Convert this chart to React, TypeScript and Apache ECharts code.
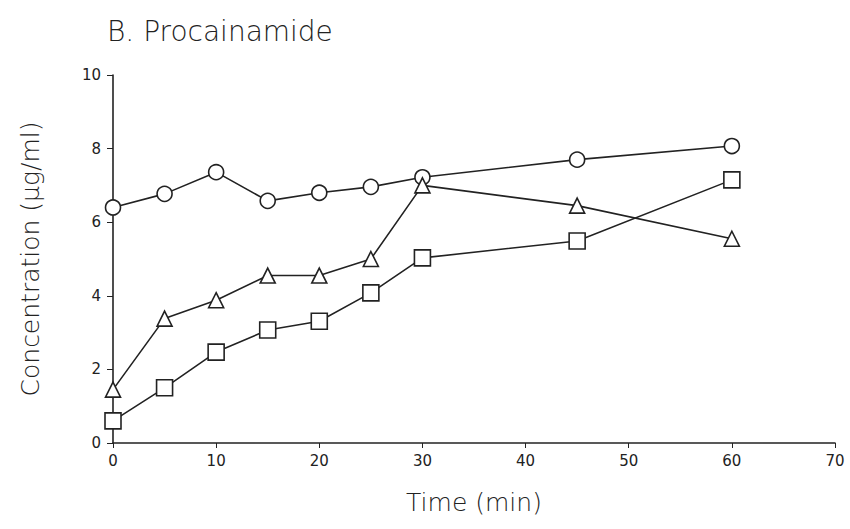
import React, { useEffect, useRef } from "react";
import * as echarts from "echarts";

const times = [0, 5, 10, 15, 20, 25, 30, 45, 60];
const circleVals = [6.4, 6.77, 7.36, 6.58, 6.8, 6.96, 7.22, 7.7, 8.07];
const triangleVals = [1.45, 3.38, 3.88, 4.55, 4.55, 5.0, 7.0, 6.45, 5.55];
const squareVals = [0.6, 1.5, 2.47, 3.07, 3.31, 4.08, 5.03, 5.49, 7.15];
const xTicks = [0, 10, 20, 30, 40, 50, 60, 70];
const yTicks = [0, 2, 4, 6, 8, 10];

const FONT = "'DejaVu Sans', sans-serif";

function mk(vals: number[], symbol: string, size: number, name: string) {
  return {
    name,
    type: "line",
    data: times.map((t, i) => [t, vals[i]]),
    symbol,
    symbolSize: size,
    showAllSymbol: true,
    lineStyle: { color: "#222", width: 1.6 },
    itemStyle: { color: "#fff", borderColor: "#222", borderWidth: 1.6 },
    z: 3,
  };
}

export default function App() {
  const ref = useRef<HTMLDivElement>(null);
  useEffect(() => {
    const chart = echarts.init(ref.current!, undefined, { renderer: "svg" });
    chart.setOption({
      animation: false,
      backgroundColor: "#fff",
      title: {
        text: "B. Procainamide",
        left: 102,
        top: 12,
        textStyle: { fontFamily: FONT, fontSize: 28, fontWeight: 200, color: "#222" },
      },
      grid: { left: 113, right: 15, top: 75, bottom: 86, containLabel: false },
      xAxis: {
        type: "value",
        min: 0,
        max: 70,
        interval: 10,
        name: "Time (min)",
        nameLocation: "middle",
        nameGap: 47,
        nameTextStyle: { fontFamily: FONT, fontSize: 25, color: "#222", fontWeight: 200 },
        axisLine: { lineStyle: { color: "#222", width: 1.6 } },
        axisTick: { show: true, length: 5, lineStyle: { color: "#222" } },
        axisLabel: {
          fontFamily: FONT,
          fontSize: 15,
          color: "#222",
          margin: 10,
          formatter: (v: number) => (xTicks.includes(v) ? String(v) : ""),
        },
        splitLine: { show: false },
      },
      yAxis: {
        type: "value",
        min: 0,
        max: 10,
        interval: 2,
        name: "Concentration (\u03bcg/ml)",
        nameLocation: "middle",
        nameGap: 70,
        nameTextStyle: { fontFamily: FONT, fontSize: 25, color: "#222", fontWeight: 200 },
        axisLine: { show: true, lineStyle: { color: "#222", width: 1.6 } },
        axisTick: { show: true, length: 6, lineStyle: { color: "#222" } },
        axisLabel: {
          fontFamily: FONT,
          fontSize: 15,
          color: "#222",
          margin: 12,
          formatter: (v: number) => (yTicks.includes(v) ? String(v) : ""),
        },
        splitLine: { show: false },
      },
      series: [
        mk(circleVals, "circle", 15, "circle"),
        mk(triangleVals, "triangle", 15, "triangle"),
        mk(squareVals, "rect", 16, "square"),
      ],
    });
    return () => chart.dispose();
  }, []);
  return <div ref={ref} style={{ width: 850, height: 529, position: "absolute", left: 0, top: 0 }} />;
}
